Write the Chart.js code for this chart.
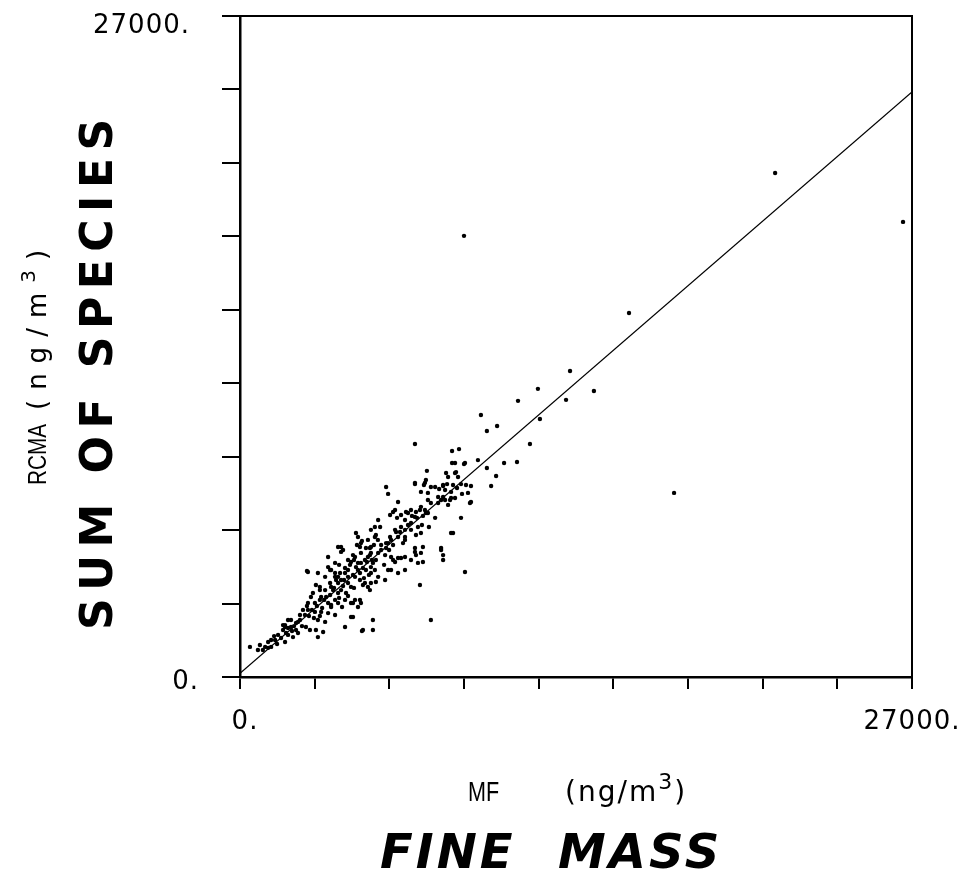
<!DOCTYPE html>
<html>
<head>
<meta charset="utf-8">
<script src="https://cdn.jsdelivr.net/npm/chart.js@4.4.1/dist/chart.umd.min.js"></script>
<style>
  html, body { margin: 0; background: #fff; }
</style>
</head>
<body>
<canvas id="chart" width="968" height="875"></canvas>
<script>
// fine mass (MF) vs reconstructed mass (RCMA), ng/m3
const mf = [
  21500, 26640, 9000, 15630, 13260, 11970, 14220, 13100, 11170, 9680,
  12050, 10330, 9920, 11650, 7030, 8800, 8520, 9560, 9000, 8520,
  10610, 11130, 8280, 8640, 9920, 10290, 9280, 8880, 8160, 10090,
  9160, 8480, 9240, 17440, 7510, 7470, 5870, 5950, 7030, 7390,
  7670, 7960, 8160, 8080, 8880, 7470, 7230, 7030, 7590, 8560,
  8080, 8160, 7350, 7030, 7230, 7670, 6870, 6470, 6630, 6270,
  5870, 5460, 5420, 5220, 6030, 4660, 4060, 3540, 3620, 3940,
  3660, 3210, 3210, 2930, 2730, 2410, 2050, 1810, 1530, 1250,
  1010, 720, 400, 2690, 5340, 5340, 4900, 4540, 6230, 6070,
  5140, 4820, 4540, 4020,
  3940, 4060, 4340, 4540, 4820, 4860, 5220, 5340, 5060, 5260,
  4660, 4820, 4620, 4340, 4060, 3820, 3860, 3620, 3740, 3940,
  4060, 3420, 3460, 3260, 3050, 3210, 2850, 3010, 3540, 3660,
  3820, 3940, 4220, 4460, 4620, 4860, 4740, 2730, 3010, 3260,
  3540, 3820, 2610, 2410, 3130, 3420, 2250, 2050, 2650, 2810,
  1930, 1810, 1730, 1930, 2130, 2330, 1410, 1250, 1130, 1810,
  920, 3050, 3130, 3340, 4940, 4220, 4460, 3420, 3540, 3130,
  2730, 5260, 4940, 5220,
  8640, 9040, 8360, 8680, 8760, 7030, 7430, 7270, 7550, 8160,
  8240, 8560, 9080, 7840, 8240, 8440, 8640, 7550, 7670, 7270,
  7070, 7430, 7550, 6870, 6750, 6350, 6230, 6150, 6030, 7840,
  6630, 6750, 6870, 6470, 6630, 7150, 7270, 9280, 6230, 6350,
  6070, 6630, 6550, 5950, 5870, 5550, 5630, 5260, 5420, 4860,
  4740, 5670, 5550, 5260, 5140, 5020, 4860, 4620, 4460, 4140,
  4340, 4220, 4740, 5260, 5420, 5550, 5460, 6070, 6350, 6630,
  7030, 7070, 7270, 8080, 8160, 7150, 7350, 6630, 6350, 5950,
  5830, 5260, 5020, 3820, 3660, 3820, 3940, 4340, 4460,
  8480, 9040,
  3620, 3780, 3980, 4140, 4260, 3660, 4100, 4340, 4180, 3380,
  2690, 2890, 3090, 3300, 2770, 2970, 3210, 2530,
  1730, 1930, 2170, 2330, 2490, 1850, 2090, 2250, 1650, 1370,
  1130, 1490, 800,
  4420, 4580, 4740, 4940, 5100, 5300, 4540, 4980, 5180, 4820,
  4700, 4900, 5060, 5380, 5540, 5140,
  6310, 6470, 6670, 6910, 7110, 7350, 6430, 6870, 7070, 7310,
  8000, 8320, 8480, 8720, 8920, 7960, 8360,
  5670, 5830, 5990, 6150, 5790, 5460, 6150,
  4220, 3980, 4580
];
const rcma = [
  20590, 18590, 18020, 14870, 12500, 11770, 11680, 11320, 11280, 10700,
  10540, 10250, 10050, 9520, 9520, 9310, 9230, 8860, 8700, 8740,
  8740, 8780, 8330, 8330, 8540, 8210, 7800, 7880, 7800, 7800,
  7520, 7310, 7110, 7520, 8420, 8050, 7760, 7480, 7880, 7840,
  7760, 7350, 7350, 7230, 6500, 6700, 6820, 6540, 6130, 5880,
  5270, 4780, 5310, 5110, 3760, 2330, 4780, 4860, 5600, 5920,
  5470, 5800, 6130, 5270, 5720, 5880, 5310, 4900, 4370, 4090,
  3680, 3680, 3150, 3430, 3020, 2530, 2330, 2040, 1720, 1510,
  1230, 1100, 1230, 4330, 2330, 1920, 1880, 2450, 4700, 4370,
  3680, 3150, 3020, 4250,
  5310, 5110, 4780, 4980, 5310, 5070, 4980, 4660, 4370, 4250,
  4490, 4250, 4090, 4090, 3960, 4250, 3960, 3840, 3550, 3430,
  3550, 3550, 3270, 3270, 3760, 3550, 3270, 3020, 3020, 2860,
  3150, 3020, 3150, 3020, 3150, 3020, 2860, 2740, 2660, 2660,
  2610, 2530, 2530, 2330, 2330, 2250, 2210, 2040, 2040, 1920,
  2330, 2120, 1920, 1720, 1630, 1800, 1510, 1230, 1190, 1430,
  1100, 1920, 1630, 1840, 1920, 2040, 2450, 4090, 4490, 4250,
  4290, 5310, 3760, 3550,
  8740, 8740, 8170, 8370, 8170, 7930, 7930, 7560, 7520, 7840,
  7640, 7840, 7840, 7760, 7230, 7230, 7310, 7230, 7110, 6950,
  6740, 6820, 6700, 6820, 6700, 7150, 6820, 6740, 6620, 6500,
  6410, 6210, 6290, 6130, 6010, 6130, 5880, 7150, 6010, 5720,
  5600, 5720, 5470, 5470, 5270, 6410, 6130, 6010, 5720, 5470,
  5720, 5190, 5070, 5070, 4900, 4780, 4660, 4900, 4700, 5190,
  4370, 4250, 4370, 4490, 4370, 4090, 3880, 4900, 4860, 4900,
  5270, 4980, 5070, 5190, 4980, 4660, 4700, 4370, 4250, 4370,
  3960, 3840, 3840, 4660, 4370, 4090, 3840, 3840, 3680,
  5880, 4290,
  3350, 3640, 3230, 3720, 3430, 2940, 2860, 3310, 3960, 3150,
  2900, 2740, 2900, 2820, 2490, 2410, 2490, 2740,
  2120, 2000, 2080, 2250, 2080, 1800, 1880, 1920, 1590, 1670,
  1430, 1350, 1310,
  4580, 4780, 4660, 4450, 4700, 4780, 4170, 4040, 4170, 3960,
  5390, 5560, 5270, 5390, 5600, 5600,
  6500, 6620, 6740, 6580, 6500, 6580, 5920, 6010, 5800, 6210,
  7680, 7880, 7560, 7720, 7480, 7110, 7030,
  5390, 4980, 5190, 4780, 4580, 4780, 5390,
  4450, 4580, 3640
];

// least-squares line end points
const fitMF = [0, 27000];
const fitRCMA = [150, 23900];

const axisMax = 27000;
const tickStep = 3000;
const endLabels = ['0.', '27000.'];

const points = mf.map((x, i) => ({ x: x, y: rcma[i] }));
const fitLine = fitMF.map((x, i) => ({ x: x, y: fitRCMA[i] }));

// "(ng/m" with a raised 3, drawn at the current transform
function drawUnits(ctx, x, y, size, supSize, gap) {
  ctx.letterSpacing = gap + 'px';
  ctx.font = size + 'px "DejaVu Sans"';
  ctx.fillText('(ng/m', x, y);
  x += ctx.measureText('(ng/m').width;
  ctx.font = supSize + 'px "DejaVu Sans"';
  ctx.fillText('3', x, y - size * 0.42);
  x += ctx.measureText('3').width;
  ctx.font = size + 'px "DejaVu Sans"';
  ctx.fillText(')', x, y);
  ctx.letterSpacing = '0px';
}

// narrow plotter lettering
function drawNarrow(ctx, text, x, y, size) {
  ctx.save();
  ctx.translate(x, y);
  ctx.scale(0.8, 1);
  ctx.font = size + 'px "Liberation Sans"';
  ctx.fillText(text, 0, 0);
  ctx.restore();
}

const decorations = {
  id: 'decorations',
  afterDraw(chart) {
    const ctx = chart.ctx;
    const area = chart.chartArea;
    const xScale = chart.scales.x;
    const yScale = chart.scales.y;
    ctx.save();
    ctx.fillStyle = '#000';
    ctx.strokeStyle = '#000';

    // top and right edges of the box
    ctx.lineWidth = 2;
    ctx.beginPath();
    ctx.moveTo(area.left, area.top);
    ctx.lineTo(area.right, area.top);
    ctx.lineTo(area.right, area.bottom + 12);
    ctx.stroke();

    // end labels of both axes
    ctx.font = '26px "DejaVu Sans"';
    ctx.letterSpacing = '1px';
    ctx.textBaseline = 'alphabetic';
    ctx.textAlign = 'right';
    ctx.fillText(endLabels[1], 190, yScale.getPixelForValue(axisMax) + 17);
    ctx.fillText(endLabels[0], 199, yScale.getPixelForValue(0) + 12);
    ctx.textAlign = 'center';
    ctx.fillText(endLabels[0], xScale.getPixelForValue(0) + 5, area.bottom + 52);
    ctx.fillText(endLabels[1], xScale.getPixelForValue(axisMax), area.bottom + 52);
    ctx.letterSpacing = '0px';

    ctx.textAlign = 'left';

    // x axis titles
    drawNarrow(ctx, 'MF', 468, 801, 27);
    drawUnits(ctx, 565, 801, 28, 22, 2);

    ctx.font = 'italic bold 48px "DejaVu Sans"';
    ctx.letterSpacing = '3px';
    ctx.fillText('FINE', 380, 868);
    ctx.fillText('MASS', 558, 868);
    ctx.letterSpacing = '0px';

    // y axis titles, reading upwards
    ctx.save();
    ctx.translate(46, 485);
    ctx.rotate(-Math.PI / 2);
    drawNarrow(ctx, 'RCMA', 0, 0, 26);
    drawUnits(ctx, 75, 0, 26, 20, 10);
    ctx.restore();

    ctx.save();
    ctx.translate(112, 630);
    ctx.rotate(-Math.PI / 2);
    ctx.font = 'bold 44px "DejaVu Sans"';
    ctx.letterSpacing = '7.5px';
    ctx.fillText('SUM OF SPECIES', 0, 0);
    ctx.restore();

    ctx.restore();
  }
};

new Chart(document.getElementById('chart'), {
  type: 'scatter',
  data: {
    datasets: [
      {
        data: points,
        pointRadius: 2.2,
        pointHoverRadius: 2.2,
        backgroundColor: '#000',
        borderWidth: 0,
        order: 2
      },
      {
        type: 'line',
        data: fitLine,
        borderColor: '#000',
        borderWidth: 1.3,
        pointRadius: 0,
        fill: false,
        order: 1
      }
    ]
  },
  options: {
    responsive: false,
    animation: false,
    devicePixelRatio: 1,
    layout: { padding: { top: 16, right: 56, left: 0, bottom: 0 } },
    plugins: {
      legend: { display: false },
      tooltip: { enabled: false }
    },
    scales: {
      x: {
        type: 'linear',
        min: 0,
        max: axisMax,
        afterFit: scale => { scale.height = 198; },
        border: { display: true, color: '#000', width: 2.5 },
        grid: { drawOnChartArea: false, drawTicks: true, tickLength: 12, color: '#000', lineWidth: 2 },
        ticks: { stepSize: tickStep, display: false }
      },
      y: {
        type: 'linear',
        min: 0,
        max: axisMax,
        afterFit: scale => { scale.width = 240; },
        border: { display: true, color: '#000', width: 2.5 },
        grid: { drawOnChartArea: false, drawTicks: true, tickLength: 18, color: '#000', lineWidth: 2 },
        ticks: { stepSize: tickStep, display: false }
      }
    }
  },
  plugins: [decorations]
});
</script>
</body>
</html>
